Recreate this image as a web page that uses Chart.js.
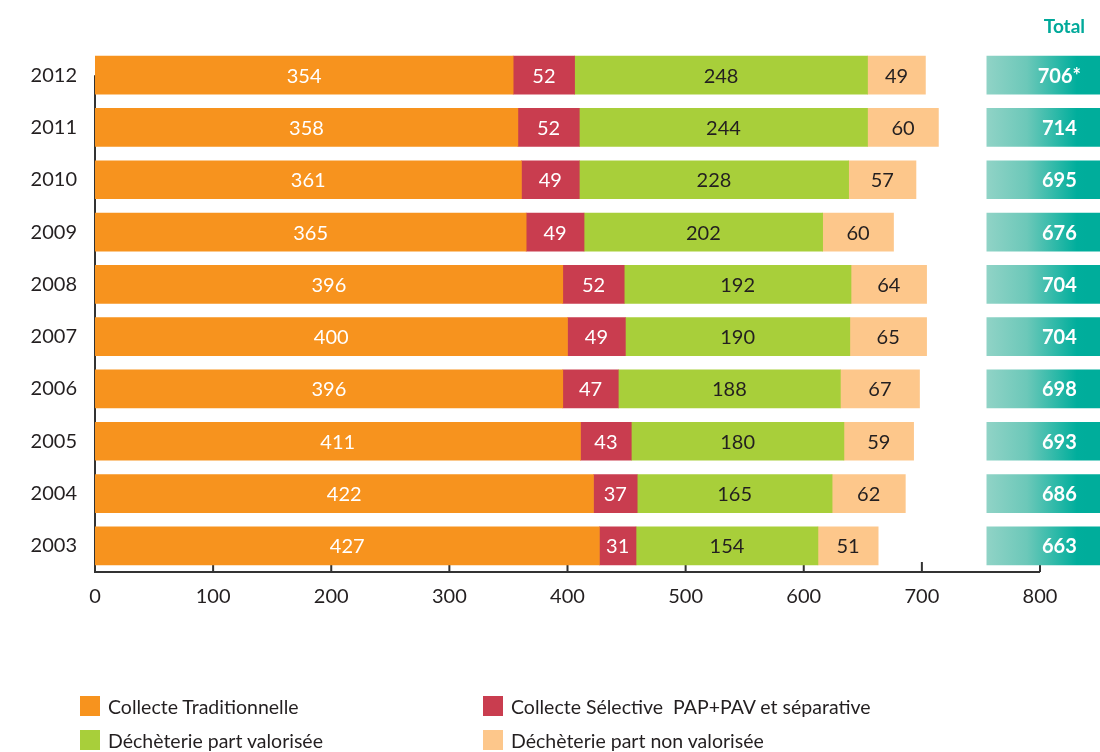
<!DOCTYPE html>
<html>
<head>
<meta charset="utf-8">
<script src="https://cdn.jsdelivr.net/npm/chart.js@4.4.1/dist/chart.umd.min.js"></script>
<style>
  body { margin: 0; background: #fff; font-family: Lato, "Noto Sans", sans-serif; }
  #wrap { position: relative; width: 1100px; height: 752px; }
  #legend {
    position: absolute; left: 80px; top: 695px;
    display: grid; grid-template-columns: 403px 500px; row-gap: 12px;
  }
  .item { display: flex; align-items: center; height: 22px; font-size: 19.5px; color: #231f20; }
  .box { width: 20px; height: 20px; margin-right: 8px; }
</style>
</head>
<body>
<div id="wrap">
  <canvas id="chart" width="1100" height="752"></canvas>
  <div id="legend"></div>
</div>
<script>
const years = ['2012', '2011', '2010', '2009', '2008', '2007', '2006', '2005', '2004', '2003'];
const traditionnelle = [354, 358, 361, 365, 396, 400, 396, 411, 422, 427];
const selective = [52, 52, 49, 49, 52, 49, 47, 43, 37, 31];
const valorisee = [248, 244, 228, 202, 192, 190, 188, 180, 165, 154];
const nonValorisee = [49, 60, 57, 60, 64, 65, 67, 59, 62, 51];
const totals = ['706*', '714', '695', '676', '704', '704', '698', '693', '686', '663'];
const xTicks = [0, 100, 200, 300, 400, 500, 600, 700, 800];

const seriesNames = ['Collecte Traditionnelle', 'Collecte Sélective  PAP+PAV et séparative',
  'Déchèterie part valorisée', 'Déchèterie part non valorisée'];
const seriesColors = ['#f7931e', '#c93d4f', '#a8cf3a', '#fdc78b'];
const labelColors = ['#ffffff', '#ffffff', '#231f20', '#231f20'];

// total column sits right of the axis (layout only)
const TOTAL_BOX = [755, 860];

const FONT = 'Lato, "Noto Sans", sans-serif';

const labelsPlugin = {
  id: 'labels',
  beforeDatasetsDraw(chart) {
    const { ctx, chartArea, scales: { x, y } } = chart;
    ctx.save();
    ctx.strokeStyle = '#333';
    ctx.lineWidth = 2;
    ctx.beginPath();
    ctx.moveTo(chartArea.left, y.getPixelForValue(0));
    ctx.lineTo(chartArea.left, chartArea.bottom);
    ctx.lineTo(x.getPixelForValue(800), chartArea.bottom);
    xTicks.forEach(t => {
      const px = x.getPixelForValue(t);
      ctx.moveTo(px, chartArea.bottom);
      ctx.lineTo(px, chartArea.bottom - 10);
    });
    ctx.stroke();
    ctx.restore();
  },
  afterDatasetsDraw(chart) {
    const { ctx } = chart;
    ctx.save();
    ctx.textBaseline = 'middle';
    ctx.textAlign = 'center';
    chart.data.datasets.forEach((ds, di) => {
      const meta = chart.getDatasetMeta(di);
      meta.data.forEach((bar, i) => {
        if (di < 4) {
          ctx.font = '20px ' + FONT;
          ctx.fillStyle = labelColors[di];
          ctx.fillText(ds.data[i], (bar.x + bar.base) / 2, bar.y + 1);
        } else {
          ctx.font = 'bold 20px ' + FONT;
          ctx.fillStyle = '#ffffff';
          ctx.fillText(totals[i], (bar.base + Math.min(bar.x, chart.width)) / 2 + 16, bar.y + 1);
        }
      });
    });
    const tb = chart.getDatasetMeta(4).data[0];
    ctx.font = 'bold 19px ' + FONT;
    ctx.fillStyle = '#00a99a';
    ctx.fillText('Total', (tb.base + chart.width) / 2 + 21, 27);
    ctx.restore();
  }
};

const stackDs = [traditionnelle, selective, valorisee, nonValorisee].map((arr, i) => ({
  label: seriesNames[i],
  data: arr,
  backgroundColor: seriesColors[i],
  stack: 'main',
  barThickness: 38
}));

const totalDs = {
  label: 'Total',
  data: totals.map(() => TOTAL_BOX),
  stack: 'total',
  grouped: false,
  clip: false,
  barThickness: 38,
  backgroundColor: c => {
    const chart = c.chart;
    if (!chart.chartArea) return '#5cc3b4';
    const x0 = chart.scales.x.getPixelForValue(TOTAL_BOX[0]);
    const g = chart.ctx.createLinearGradient(x0, 0, x0 + 100, 0);
    g.addColorStop(0, '#90d3c6');
    g.addColorStop(0.4, '#6cc8b9');
    g.addColorStop(0.9, '#00ae9c');
    g.addColorStop(1, '#00ad9b');
    return g;
  }
};

new Chart(document.getElementById('chart'), {
  type: 'bar',
  data: { labels: years, datasets: [...stackDs, totalDs] },
  options: {
    indexAxis: 'y',
    responsive: false,
    animation: false,
    layout: { padding: { top: 49, right: 60, left: 0, bottom: 0 } },
    plugins: { legend: { display: false }, tooltip: { enabled: false } },
    scales: {
      x: {
        stacked: true,
        min: 0,
        max: 800,
        afterBuildTicks: s => { s.ticks = xTicks.map(v => ({ value: v })); },
        afterFit: s => { s.height = 180; },
        grid: { display: false },
        border: { display: false },
        ticks: { color: '#231f20', font: { size: 20, family: FONT }, padding: 5 }
      },
      y: {
        stacked: true,
        afterFit: s => { s.width = 95; },
        grid: { display: false },
        border: { display: false },
        ticks: { color: '#231f20', font: { size: 20, family: FONT }, padding: 10 }
      }
    }
  },
  plugins: [labelsPlugin]
});

const legend = document.getElementById('legend');
[0, 1, 2, 3].forEach(i => {
  const el = document.createElement('div');
  el.className = 'item';
  el.innerHTML = `<span class="box" style="background:${seriesColors[i]}"></span>${seriesNames[i].replace(/  /g, ' &nbsp;')}`;
  legend.appendChild(el);
});
</script>
</body>
</html>
